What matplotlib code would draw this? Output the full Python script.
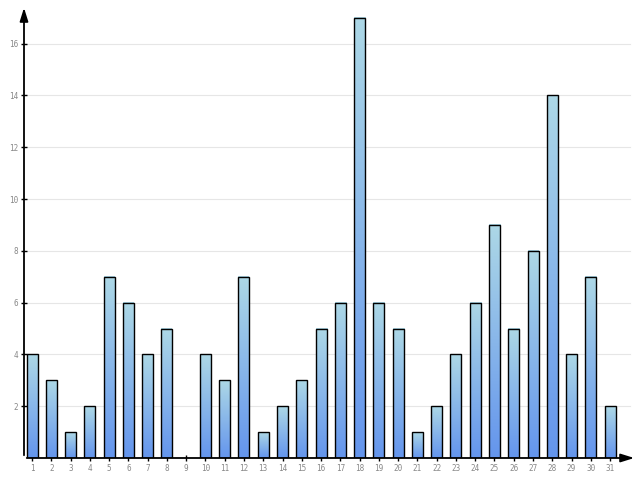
import numpy as np
import matplotlib.pyplot as plt
from matplotlib.colors import LinearSegmentedColormap

days = list(range(1, 32))
values = [4, 3, 1, 2, 7, 6, 4, 5, 0, 4, 3, 7, 1, 2, 3, 5, 6, 17, 6, 5, 1, 2, 4, 6, 9, 5, 8, 14, 4, 7, 2]
y_ticks = [2, 4, 6, 8, 10, 12, 14, 16]

fig = plt.figure(figsize=(6.4, 4.8), dpi=100)
ax = fig.add_axes([24 / 640, 22 / 480, (637 - 24) / 640, (458 - 5) / 480])

xmin, xmax = 1 - 8 / 19.27, 1 + (637 - 32) / 19.27
ymax = (458 - 5) / 25.9
ax.set_xlim(xmin, xmax)
ax.set_ylim(0, ymax)

for s in ax.spines.values():
    s.set_visible(False)

# gridlines stop short of the arrow area
for t in y_ticks:
    ax.plot([xmin, 1 + (630 - 32) / 19.27], [t, t], color="#e6e6e6", lw=0.8, zorder=0)

cmap = LinearSegmentedColormap.from_list("bar", ["#6495ed", "#add8e6"])
grad = np.linspace(0, 1, 256).reshape(-1, 1)
w = 11 / 19.27
for d, v in zip(days, values):
    if v <= 0:
        continue
    ax.imshow(grad, cmap=cmap, origin="lower", aspect="auto",
              extent=(d - w / 2, d + w / 2, 0, v), zorder=2, interpolation="bilinear")
    ax.add_patch(plt.Rectangle((d - w / 2, 0), w, v, fill=False, ec="black", lw=1.0, zorder=3))

ax.set_xlim(xmin, xmax)
ax.set_ylim(0, ymax)

# axes with arrowheads
ax.annotate("", xy=(1, 0), xycoords="axes fraction", xytext=(0, 0),
            arrowprops=dict(arrowstyle="-|>,head_length=0.8,head_width=0.25", color="black", lw=1.3))
ax.annotate("", xy=(0, 1), xycoords="axes fraction", xytext=(0, 0),
            arrowprops=dict(arrowstyle="-|>,head_length=0.8,head_width=0.25", color="black", lw=1.3))

ax.set_xticks(days)
ax.set_xticklabels([str(d) for d in days])
ax.set_yticks(y_ticks)
ax.set_yticklabels([str(t) for t in y_ticks])
ax.tick_params(axis="both", direction="inout", length=5, width=1, color="black",
               labelsize=5.5, labelcolor="#888888", pad=1.5)
for lbl in ax.get_xticklabels() + ax.get_yticklabels():
    lbl.set_family("DejaVu Sans Mono")

fig.savefig("out.png", dpi=100)
